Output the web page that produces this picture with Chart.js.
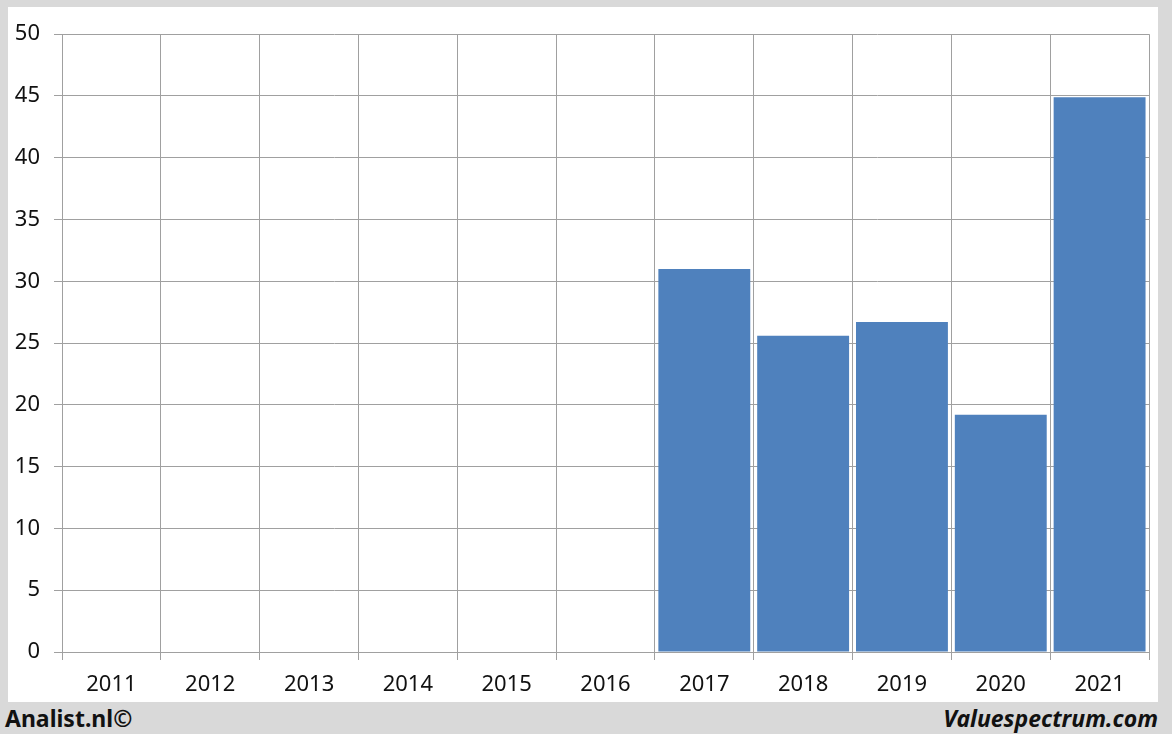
<!DOCTYPE html>
<html>
<head>
<meta charset="utf-8">
<script src="https://cdn.jsdelivr.net/npm/chart.js@4"></script>
<style>
  html, body { margin: 0; padding: 0; }
  body { width: 1172px; height: 734px; background: #d9d9d9; position: relative; overflow: hidden; font-family: "Noto Sans", sans-serif; }
  #panel { position: absolute; left: 8px; top: 7px; width: 1150px; height: 695px; background: #fff; }
  .foot { position: absolute; top: 702px; height: 32px; line-height: 32px; font-weight: bold; font-size: 23px; color: #111; }
  #left { left: 5px; }
  #right { right: 14px; font-style: italic; }
</style>
</head>
<body>
<div id="panel"><canvas id="grafico" width="1150" height="695"></canvas></div>
<div class="foot" id="left">Analist.nl©</div>
<div class="foot" id="right">Valuespectrum.com</div>
<script>
const anos = ["2011", "2012", "2013", "2014", "2015", "2016", "2017", "2018", "2019", "2020", "2021"];
const valores = [null, null, null, null, null, null, 31.0, 25.6, 26.7, 19.2, 44.9];
const yMin = 0, yMax = 50, yPasso = 5;

const corBarra = "#4f81bd";
const corGrade = "#a0a0a0";
const fonte = { family: "Noto Sans", size: 22 };

const ctx = document.getElementById("grafico").getContext("2d");
new Chart(ctx, {
  type: "bar",
  data: {
    labels: anos,
    datasets: [{
      data: valores,
      backgroundColor: corBarra,
      borderWidth: 0,
      barPercentage: 0.93,
      categoryPercentage: 1
    }]
  },
  options: {
    responsive: false,
    animation: false,
    layout: { padding: { top: 26, right: 9, left: 0, bottom: 0 } },
    plugins: { legend: { display: false }, tooltip: { enabled: false } },
    scales: {
      x: {
        grid: { color: corGrade, lineWidth: 1, tickLength: 8, offset: true },
        border: { color: corGrade },
        ticks: { color: "#111", font: fonte, padding: 12, maxRotation: 0 },
        afterFit: s => { s.height = 50; }
      },
      y: {
        min: yMin, max: yMax,
        grid: { color: corGrade, lineWidth: 1, tickLength: 8 },
        border: { color: corGrade },
        ticks: { stepSize: yPasso, color: "#111", font: fonte, padding: 14 },
        afterFit: s => { s.width = 54; }
      }
    }
  }
});
</script>
</body>
</html>
